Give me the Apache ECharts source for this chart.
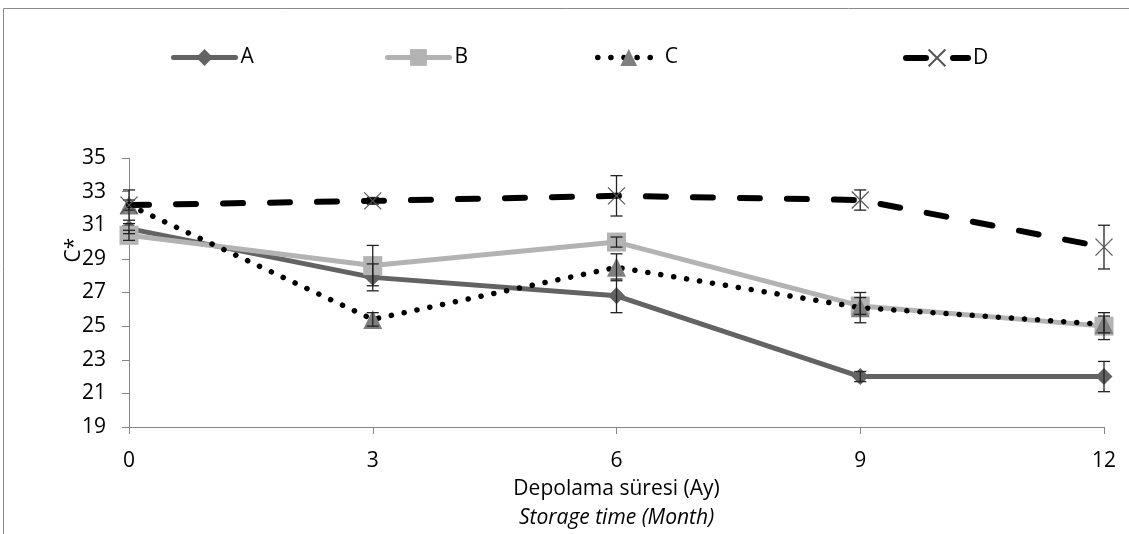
<!DOCTYPE html>
<html>
<head>
<meta charset="utf-8">
<script src="https://cdn.jsdelivr.net/npm/echarts@6/dist/echarts.min.js"></script>
<style>
  html, body { margin: 0; padding: 0; background: #fff; }
  #main { width: 1129px; height: 534px; }
</style>
</head>
<body>
<div id="main"></div>
<script>
// storage time (months)
var months = ['0', '3', '6', '9', '12'];
// C* means per sample
var valA = [30.8, 27.9, 26.8, 22.0, 22.0];
var valB = [30.4, 28.6, 30.0, 26.2, 25.0];
var valC = [32.2, 25.4, 28.5, 26.1, 25.1];
var valD = [32.2, 32.45, 32.75, 32.5, 29.7];
// standard deviations
var errA = [0.3, 0.8, 1.0, 0.3, 0.9];
var errB = [0.3, 1.2, 0.3, 0.5, 0.8];
var errC = [0.9, 0.4, 0.8, 0.9, 0.5];
var errD = [0.3, 0.2, 1.2, 0.6, 1.3];

var FONT = '"Open Sans", "DejaVu Sans", sans-serif';
var FS = 21;

function errSeries(vals, errs) {
  var data = vals.map(function (v, i) { return [i, v - errs[i], v + errs[i]]; });
  return {
    type: 'custom',
    silent: true,
    z: 5,
    renderItem: function (params, api) {
      var lo = api.coord([api.value(0), api.value(1)]);
      var hi = api.coord([api.value(0), api.value(2)]);
      var w = 6;
      var st = { stroke: '#222', lineWidth: 1.3 };
      return {
        type: 'group',
        children: [
          { type: 'line', shape: { x1: lo[0], y1: lo[1], x2: hi[0], y2: hi[1] }, style: st },
          { type: 'line', shape: { x1: lo[0] - w, y1: lo[1], x2: lo[0] + w, y2: lo[1] }, style: st },
          { type: 'line', shape: { x1: hi[0] - w, y1: hi[1], x2: hi[0] + w, y2: hi[1] }, style: st }
        ]
      };
    },
    data: data
  };
}

var myChart = echarts.init(document.getElementById('main'), null, { renderer: 'canvas' });

var legendBase = {
  top: 42,
  itemWidth: 62,
  itemHeight: 21,
  itemGap: 5,
  lineStyle: { width: 'inherit' },
  textStyle: { fontFamily: FONT, fontSize: FS, color: '#000' }
};

var option = {
  animation: false,
  backgroundColor: '#fff',
  graphic: [
    {
      type: 'rect',
      shape: { x: 3.5, y: 8.5, width: 1200, height: 700 },
      style: { fill: 'none', stroke: '#8a8a8a', lineWidth: 1 },
      silent: true
    },
    {
      // y axis title
      type: 'text',
      x: 74,
      y: 250,
      rotation: Math.PI / 2,
      style: {
        text: 'C*',
        fontFamily: FONT,
        fontSize: FS,
        fill: '#000',
        align: 'center',
        verticalAlign: 'middle'
      },
      silent: true
    }
  ],
  legend: [
    Object.assign({ left: 166, data: ['A'] }, legendBase),
    Object.assign({ left: 380, data: ['B'] }, legendBase),
    Object.assign({ left: 590, data: ['C'] }, legendBase),
    Object.assign({ left: 898, data: ['D'] }, legendBase)
  ],
  grid: { left: 129, right: 25, top: 158, bottom: 103 },
  xAxis: {
    type: 'category',
    data: months,
    boundaryGap: false,
    axisLine: { lineStyle: { color: '#868686', width: 1 } },
    axisTick: { show: true, length: 7, lineStyle: { color: '#868686' } },
    axisLabel: { fontFamily: FONT, fontSize: FS, color: '#000', margin: 24 },
    name: '{a|Depolama süresi (Ay)}\n{b|Storage time (Month)}',
    nameLocation: 'middle',
    nameGap: 48,
    nameMoveOverlap: false,
    nameTextStyle: {
      rich: {
        a: { fontFamily: FONT, fontSize: FS, color: '#000', lineHeight: 29 },
        b: { fontFamily: FONT, fontSize: FS, color: '#000', fontStyle: 'italic', lineHeight: 29 }
      }
    }
  },
  yAxis: {
    type: 'value',
    min: 19,
    max: 35,
    interval: 2,
    axisLine: { show: true, lineStyle: { color: '#868686', width: 1 } },
    axisTick: { show: true, length: 7, lineStyle: { color: '#868686' } },
    splitLine: { show: false },
    axisLabel: { fontFamily: FONT, fontSize: FS, color: '#000', margin: 23 }
  },
  series: [
    {
      name: 'A',
      type: 'line',
      data: valA,
      symbol: 'diamond',
      symbolSize: 17,
      z: 2,
      itemStyle: { color: '#636363' },
      lineStyle: { color: '#636363', width: 5, cap: 'round' }
    },
    {
      name: 'B',
      type: 'line',
      data: valB,
      symbol: 'rect',
      symbolSize: 19,
      z: 3,
      itemStyle: { color: '#b3b3b3' },
      lineStyle: { color: '#b3b3b3', width: 5, cap: 'round' }
    },
    {
      name: 'C',
      type: 'line',
      data: valC,
      symbol: 'triangle',
      symbolSize: 19,
      z: 4,
      itemStyle: { color: '#7f7f7f' },
      lineStyle: { color: '#000', width: 5.5, cap: 'round', type: [0.1, 13] }
    },
    {
      name: 'D',
      type: 'line',
      data: valD,
      symbol: 'path://M0,0L10,10M10,0L0,10',
      symbolSize: 17,
      z: 6,
      itemStyle: { color: 'none', borderColor: '#555', borderWidth: 1.2 },
      lineStyle: { color: '#000', width: 6, cap: 'round', type: [20, 27] }
    },
    errSeries(valA, errA),
    errSeries(valB, errB),
    errSeries(valC, errC),
    errSeries(valD, errD)
  ]
};

myChart.setOption(option);
</script>
</body>
</html>
